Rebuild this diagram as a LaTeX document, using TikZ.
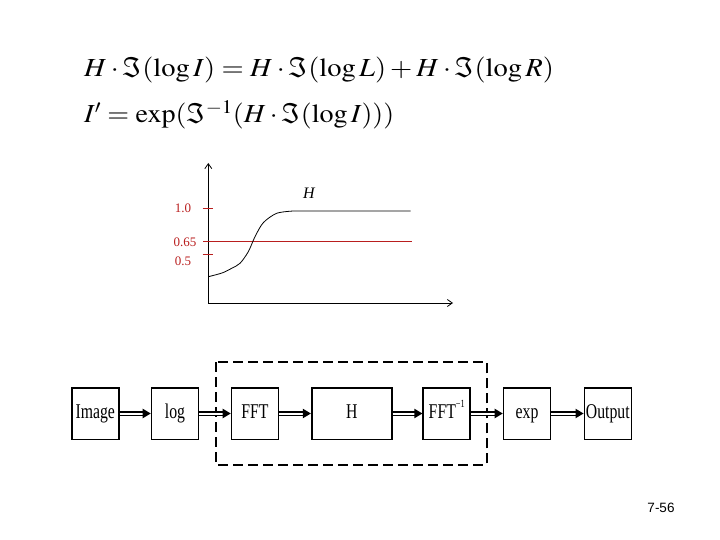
\documentclass[tikz,border=0pt]{standalone}
\usetikzlibrary{arrows.meta}
\usepackage{mathptmx}
\usepackage[no-math]{fontspec}
\setmainfont{Liberation Serif}
\newfontfamily\blkfont[FakeStretch=0.75]{Liberation Serif}
\newfontfamily\pgfont{Liberation Sans}
\definecolor{tickred}{RGB}{185,30,30}
\begin{document}
\begin{tikzpicture}[x=1pt,y=-1pt,
  eq/.style={anchor=base west,inner sep=0pt,font=\fontsize{26}{30}\selectfont},
  blk/.style={draw,line width=1.6pt,minimum width=47pt,minimum height=51.6pt,inner sep=0pt,
     text height=14.5pt,text depth=5pt,font=\blkfont\fontsize{21}{23}\selectfont},
  dbl/.style={double,double distance=2pt,line width=1.5pt},
  lbl/.style={text=tickred,font=\fontsize{13}{15}\selectfont,inner sep=0pt},
  redline/.style={draw=tickred,line width=1.2pt}]
\useasboundingbox (0,0) rectangle (720,540);
% equations
\node[eq] (eq1) at (84,77) {\scalebox{1.1}[1]{$H\cdot\Im(\log I)=H\cdot\Im(\log L)+H\cdot\Im(\log R)$}};
\node[eq] (eq2) at (84,123) {\scalebox{1.08}[1]{$I'=\exp(\Im^{-1}(H\cdot\Im(\log I)))$}};
% plot
\coordinate (o) at (208.3,303);
\draw[line width=0.8pt,-{Straight Barb[length=5pt,width=7pt]}] (o) -- (208.3,163) coordinate (ytop);
\draw[line width=0.8pt,-{Straight Barb[length=5pt,width=7pt]}] (o) -- (453,303) coordinate (xend);
\draw[redline] (202.7,208.5) -- (213,208.5);
\draw[redline] (202.7,254.5) -- (213,254.5);
\fill[tickred] (202.7,240.7) rectangle (411.7,242.3);
\node[lbl] (l10) at (183,208.7) {1.0};
\node[lbl] (l065) at (185,242) {0.65};
\node[lbl] (l05) at (183,261) {0.5};
\draw[line width=0.8pt] plot[smooth,tension=0.5] coordinates {(208.3,276.7) (222,273) (231.7,268.3) (240,263.3) (248.3,251.7) (255,236.7) (263.3,222.7) (276.7,213.3) (293.3,211)} -- (410.7,211);
\node[inner sep=0pt,font=\fontsize{16}{18}\selectfont\itshape] (hl) at (309,193.5) {H};
% block diagram
\draw[line width=1.8pt,dash pattern=on 10pt off 5pt] (216,362.3) rectangle (486.7,465);
\node[blk] (img) at (95.3,413.5) {Image};
\node[blk] (lg) at (175,413.5) {log};
\node[blk] (fft) at (255,413.5) {FFT};
\node[blk,minimum width=80pt] (hh) at (351.7,413.5) {H};
\node[blk] (ifft) at (446.7,413.5) {FFT\raisebox{0.5em}{\fontsize{11}{11}\selectfont −1}};
\node[blk] (ex) at (527,413.5) {exp};
\node[blk] (out) at (607.8,413.5) {Output};
\newcommand\dblarr[2]{%
  \draw[dbl] (#1.east) -- ([xshift=-6pt]#2.west);
  \fill ([xshift=-8pt,yshift=4.8pt]#2.west) -- (#2.west) -- ([xshift=-8pt,yshift=-4.8pt]#2.west) -- cycle;}
\dblarr{img}{lg}
\dblarr{lg}{fft}
\dblarr{fft}{hh}
\dblarr{hh}{ifft}
\dblarr{ifft}{ex}
\dblarr{ex}{out}
\node[font=\pgfont\fontsize{13.5}{15}\selectfont,inner sep=0pt] (pg) at (661,507.5) {7-56};
\end{tikzpicture}
\end{document}
